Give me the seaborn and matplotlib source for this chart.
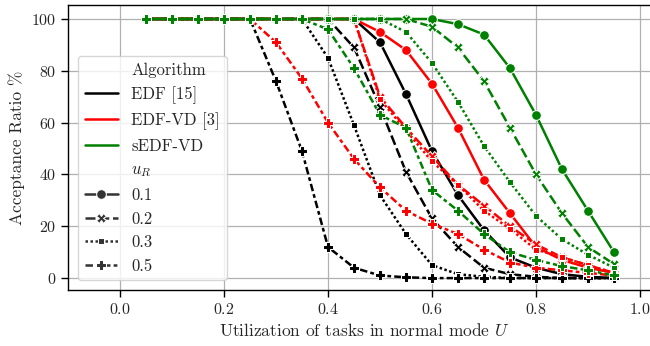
import numpy as np
import pandas as pd
import seaborn as sns
import matplotlib.pyplot as plt

# utilization steps
U = [0.05, 0.10, 0.15, 0.20, 0.25, 0.30, 0.35, 0.40, 0.45, 0.50,
     0.55, 0.60, 0.65, 0.70, 0.75, 0.80, 0.85, 0.90, 0.95]

algorithms = ["EDF [15]", "EDF-VD [3]", "sEDF-VD"]
u_r_levels = ["0.1", "0.2", "0.3", "0.5"]

# acceptance ratio (%)
edf_01 = [100, 100, 100, 100, 100, 100, 100, 100, 100, 91, 71, 49, 32, 18.5, 8, 4, 1.5, 0.5, 0]
edf_02 = [100, 100, 100, 100, 100, 100, 100, 100, 89, 66, 41, 23, 12, 4, 1.5, 0.5, 0, 0, 0]
edf_03 = [100, 100, 100, 100, 100, 100, 100, 85, 59, 32, 17, 5, 1.5, 0.5, 0, 0, 0, 0, 0]
edf_05 = [100, 100, 100, 100, 100, 76, 49, 12, 4, 1, 0.3, 0, 0, 0, 0, 0, 0, 0, 0]

edfvd_01 = [100, 100, 100, 100, 100, 100, 100, 100, 100, 95, 88, 75, 58, 38, 25, 12, 7, 4, 2]
edfvd_02 = [100, 100, 100, 100, 100, 100, 100, 100, 100, 70, 58, 47, 36, 28, 20, 13, 8, 5, 2]
edfvd_03 = [100, 100, 100, 100, 100, 100, 100, 100, 100, 69, 57, 45, 36, 26, 19, 11, 8, 5, 2]
edfvd_05 = [100, 100, 100, 100, 100, 91, 77, 60, 46, 35, 26, 21, 17, 11, 6, 4, 3, 2, 1]

sedfvd_01 = [100, 100, 100, 100, 100, 100, 100, 100, 100, 100, 100, 100, 98, 94, 81, 63, 42, 26, 10]
sedfvd_02 = [100, 100, 100, 100, 100, 100, 100, 100, 100, 100, 100, 97, 89, 76, 58, 40, 25, 12, 5.4]
sedfvd_03 = [100, 100, 100, 100, 100, 100, 100, 100, 100, 100, 95, 83, 68, 51, 37, 24, 15, 9, 4]
sedfvd_05 = [100, 100, 100, 100, 100, 100, 100, 96, 81, 63, 58, 34, 26, 17, 10, 7, 4.6, 3, 1]

series = {
    ("EDF [15]", "0.1"): edf_01, ("EDF [15]", "0.2"): edf_02,
    ("EDF [15]", "0.3"): edf_03, ("EDF [15]", "0.5"): edf_05,
    ("EDF-VD [3]", "0.1"): edfvd_01, ("EDF-VD [3]", "0.2"): edfvd_02,
    ("EDF-VD [3]", "0.3"): edfvd_03, ("EDF-VD [3]", "0.5"): edfvd_05,
    ("sEDF-VD", "0.1"): sedfvd_01, ("sEDF-VD", "0.2"): sedfvd_02,
    ("sEDF-VD", "0.3"): sedfvd_03, ("sEDF-VD", "0.5"): sedfvd_05,
}

rows = []
for (alg, ur), vals in series.items():
    for u, v in zip(U, vals):
        rows.append({"U": u, "Acceptance": v, "Algorithm": alg, "$u_R$": ur})
df = pd.DataFrame(rows)

sns.set_theme(style="whitegrid")
plt.rcParams["font.family"] = ["cmr10"]
plt.rcParams["mathtext.fontset"] = "cm"
plt.rcParams["axes.formatter.use_mathtext"] = True
plt.rcParams["axes.unicode_minus"] = False

fig = plt.figure(figsize=(6.5, 3.46), dpi=100)
ax = fig.add_axes([68 / 650, 56 / 346, 592 / 650, 285 / 346])

sns.lineplot(
    data=df, x="U", y="Acceptance", hue="Algorithm", style="$u_R$",
    hue_order=algorithms, style_order=u_r_levels,
    palette=["black", "red", "green"], markers=True, markersize=7,
    linewidth=1.8, ax=ax,
)

ax.set_xlim(-0.1, 1.0385)
ax.set_ylim(-4.6, 105.4)
ax.set_xticks([0.0, 0.2, 0.4, 0.6, 0.8, 1.0])
ax.set_yticks([0, 20, 40, 60, 80, 100])
ax.set_xlabel("Utilization of tasks in normal mode $U$", fontsize=12.5)
ax.set_ylabel("Acceptance Ratio %", fontsize=12.5)
ax.tick_params(axis="both", which="major", labelsize=11.5, length=5, width=1,
               direction="out", left=True, bottom=True, color="black")
ax.grid(color="#b0b0b0", linewidth=0.9)
for s in ax.spines.values():
    s.set_color("black")
    s.set_linewidth(1.0)

ax.legend(loc="upper left", bbox_to_anchor=(0.017, 0.821), borderaxespad=0,
          fontsize=12, frameon=True, framealpha=0.8, edgecolor="#cccccc")

fig.savefig("out.png", dpi=100)
